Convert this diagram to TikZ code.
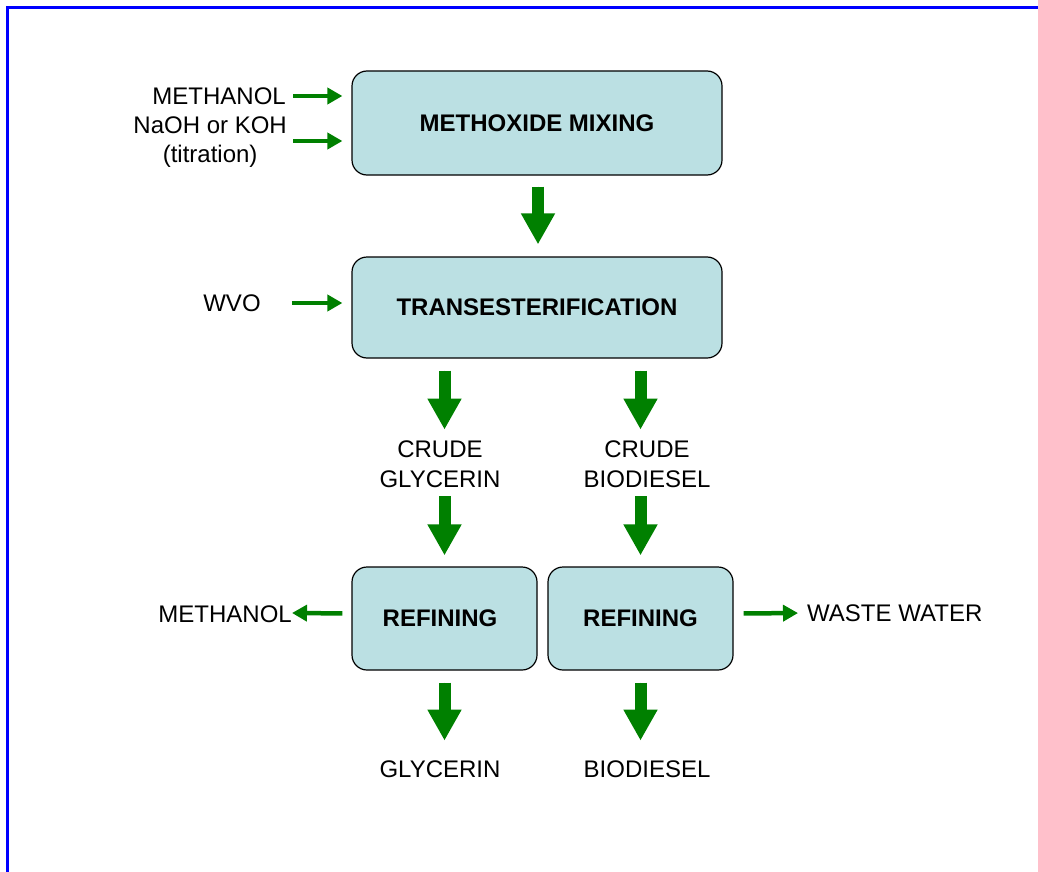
\documentclass[tikz,border=0pt]{standalone}
\usepackage{fontspec}
\setmainfont{Liberation Sans}
\usetikzlibrary{arrows.meta,calc}
\definecolor{boxfill}{HTML}{BBE0E3}
\definecolor{flowgreen}{HTML}{008000}
\definecolor{frameblue}{RGB}{0,0,255}
\begin{document}
\begin{tikzpicture}[x=1pt,y=-1pt,
  procbox/.style={draw=black,line width=1.2pt,fill=boxfill,rounded corners=15pt,
    minimum width=#1,inner sep=0pt,font=\fontsize{24}{29}\selectfont\bfseries},
  lbl/.style={inner sep=0pt,align=center,font=\fontsize{24}{29.5}\selectfont},
  bigarrow/.style={draw=flowgreen,line width=12pt,-{Triangle[width=32pt,length=31pt]},fill=flowgreen},
  smallarrow/.style={draw=flowgreen,line width=4.5pt,-{Triangle[width=16pt,length=15pt]},fill=flowgreen}]
\useasboundingbox (0,0) rectangle (1038,872);
\draw[draw=frameblue,line width=2.2pt] (7.5,872) -- (7.5,7.5) -- (1038,7.5);
% process boxes
\node[procbox=370pt,minimum height=104pt] (mix) at (537,123) {METHOXIDE MIXING};
\node[procbox=370pt,minimum height=101pt] (trans) at (537,307.5) {TRANSESTERIFICATION};
\node[procbox=185pt,minimum height=103pt] (refL) at (444.5,618.5) {\hspace*{-9pt}REFINING};
\node[procbox=185pt,minimum height=103pt] (refR) at (640.5,618.5) {REFINING};
% labels
\node[lbl,anchor=east] (meth1) at (286,96) {METHANOL};
\node[lbl,anchor=east] (naoh) at (287,142) {NaOH or KOH\\(titration)};
\node[lbl] (wvo) at (232,303) {WVO};
\node[lbl] (cg) at (440,464) {CRUDE\\GLYCERIN};
\node[lbl] (cb) at (647,464) {CRUDE\\BIODIESEL};
\node[lbl] (gly) at (440,769) {GLYCERIN};
\node[lbl] (bio) at (647,769) {BIODIESEL};
\node[lbl,anchor=east] (meth2) at (292,614) {METHANOL};
\node[lbl,anchor=west] (waste) at (807,613) {WASTE WATER};
% small arrows
\draw[smallarrow,shorten <=7pt,shorten >=9pt] (meth1.east) -- (meth1.east -| mix.west);
\draw[smallarrow,shorten <=6pt,shorten >=9pt] ($(naoh.east)+(0,-1)$) -- ($(naoh.east -| mix.west)+(0,-1)$);
\draw[smallarrow,shorten <=31pt,shorten >=9pt] (wvo.east) -- (wvo.east -| trans.west);
\draw[smallarrow,shorten <=9pt] ($(refL.west)+(0,-5)$) -- ($(meth2.east)+(0,-1)$);
\draw[smallarrow,shorten <=10pt,shorten >=9pt] ($(refR.east)+(0,-5)$) -- (waste.west);
% big arrows
\draw[bigarrow] ($(mix.south)+(1,11)$) -- ($(trans.north)+(1,-12)$);
\draw[bigarrow] ($(trans.south -| refL.north)+(0,12)$) -- ++(0,59);
\draw[bigarrow] ($(trans.south -| refR.north)+(0,12)$) -- ++(0,59);
\draw[bigarrow] ($(refL.north)+(0,-70)$) -- ($(refL.north)+(0,-11)$);
\draw[bigarrow] ($(refR.north)+(0,-70)$) -- ($(refR.north)+(0,-11)$);
\draw[bigarrow] ($(refL.south)+(0,12)$) -- ++(0,58);
\draw[bigarrow] ($(refR.south)+(0,12)$) -- ++(0,58);
\end{tikzpicture}
\end{document}
